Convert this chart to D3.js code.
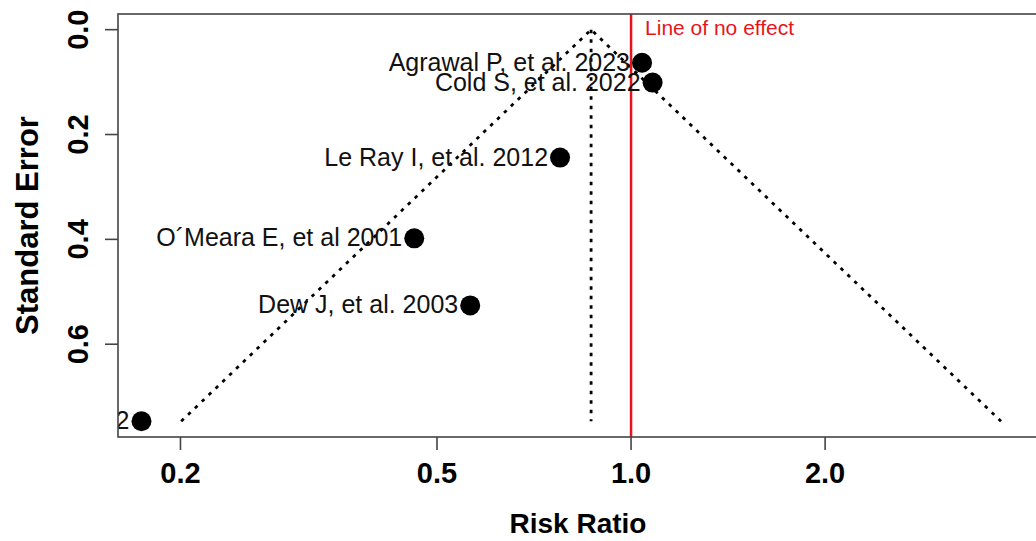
<!DOCTYPE html>
<html lang="en">
	<head>
		<meta charset="utf-8">
		<title>funnel plot</title>
		<script type="text/javascript" src="https://d3js.org/d3.v7.min.js"></script>
		<style type="text/css">
            body{margin:0;background:#fff;font-family:"Liberation Sans",Arial,Helvetica,sans-serif;}
            svg{display:block;}
		</style>
	</head>
	<body>
    <div id="chart1"></div>
		<script type="text/javascript">
            // study data (risk ratio, standard error)
            var studies = ["Agrawal P, et al. 2023","Cold S, et al. 2022","Le Ray I, et al. 2012","O\u00B4Meara E, et al 2001","Dew J, et al. 2003","et al. 2012"]
            var riskRatio = [1.04,1.08,0.776,0.461,0.563,0.174]
            var stdError = [0.063,0.101,0.244,0.398,0.526,0.747]
            var pooledRR = 0.867
            var xTicks = [0.2,0.5,1.0,2.0]
            var xTickLabels = ["0.2","0.5","1.0","2.0"]
            var yTicks = [0,0.2,0.4,0.6]
            var yTickLabels = ["0.0","0.2","0.4","0.6"]

            var w = 1036
            var h = 541
            // plot box (window.top is read-only, so keep these names apart)
            var pLeft = 118, pRight = 1042, pTop = 14, pBottom = 437

            var xScale = d3.scaleLog().domain([0.160,4.34]).range([pLeft,pRight])
            var yScale = d3.scaleLinear().domain([-0.0299,0.777]).range([pTop,pBottom])

            var svg = d3.select("#chart1")
                        .append("svg")
                        .attr("width",w)
                        .attr("height",h)

            svg.append("clipPath").attr("id","plotclip")
                .append("rect")
                .attr("x",pLeft).attr("y",pTop)
                .attr("width",pRight-pLeft).attr("height",pBottom-pTop)

            var plot = svg.append("g").attr("clip-path","url(#plotclip)")

            // funnel
            var maxSe = d3.max(stdError)
            var est = Math.log(pooledRR)
            var funnel = [
                [Math.exp(est-1.96*maxSe),maxSe],
                [pooledRR,0],
                [Math.exp(est+1.96*maxSe),maxSe]
            ]
            var line = d3.line()
                .x(function(d){ return xScale(d[0]) })
                .y(function(d){ return yScale(d[1]) })

            plot.append("path")
                .attr("d",line(funnel))
                .attr("fill","none")
                .attr("stroke","#000")
                .attr("stroke-width",2.8)
                .attr("stroke-dasharray","3.5,6")

            plot.append("path")
                .attr("d",line([[pooledRR,0],[pooledRR,maxSe]]))
                .attr("fill","none")
                .attr("stroke","#000")
                .attr("stroke-width",2.8)
                .attr("stroke-dasharray","3.5,6")

            // line of no effect
            plot.append("line")
                .attr("x1",xScale(1)).attr("x2",xScale(1))
                .attr("y1",pTop).attr("y2",pBottom)
                .attr("stroke","#e8141b")
                .attr("stroke-width",2.5)

            plot.append("text")
                .attr("x",xScale(1)+14)
                .attr("y",35)
                .attr("fill","#e8141b")
                .attr("font-size",21)
                .text("Line of no effect")

            var data = studies.map(function(s,i){
                return {name:s,rr:riskRatio[i],se:stdError[i]}
            })

            plot.selectAll("text.lab")
                .data(data)
                .enter()
                .append("text")
                .attr("class","lab")
                .attr("x",function(d){ return xScale(d.rr)-12 })
                .attr("y",function(d){ return yScale(d.se)+8 })
                .attr("text-anchor","end")
                .attr("font-size",25)
                .attr("fill","#111")
                .text(function(d){ return d.name })

            plot.selectAll("circle")
                .data(data)
                .enter()
                .append("circle")
                .attr("cx",function(d){ return xScale(d.rr) })
                .attr("cy",function(d){ return yScale(d.se) })
                .attr("r",10)
                .attr("fill","#000")

            // box (open on the right, runs off the page)
            svg.append("rect")
                .attr("x",pLeft).attr("y",pTop)
                .attr("width",pRight-pLeft).attr("height",pBottom-pTop)
                .attr("fill","none")
                .attr("stroke","#444")
                .attr("stroke-width",1.6)

            // x axis
            var xAxis = svg.append("g")
            xAxis.selectAll("line")
                .data(xTicks)
                .enter()
                .append("line")
                .attr("x1",function(d){ return xScale(d) })
                .attr("x2",function(d){ return xScale(d) })
                .attr("y1",pBottom).attr("y2",pBottom+13)
                .attr("stroke","#444").attr("stroke-width",1.6)
            xAxis.selectAll("text")
                .data(xTicks)
                .enter()
                .append("text")
                .attr("x",function(d){ return xScale(d) })
                .attr("y",483)
                .attr("text-anchor","middle")
                .attr("font-size",29)
                .attr("font-weight","bold")
                .text(function(d,i){ return xTickLabels[i] })

            svg.append("text")
                .attr("x",578)
                .attr("y",533)
                .attr("text-anchor","middle")
                .attr("font-size",28)
                .attr("font-weight","bold")
                .text("Risk Ratio")

            // y axis
            var yAxis = svg.append("g")
            yAxis.selectAll("line")
                .data(yTicks)
                .enter()
                .append("line")
                .attr("x1",pLeft-13).attr("x2",pLeft)
                .attr("y1",function(d){ return yScale(d) })
                .attr("y2",function(d){ return yScale(d) })
                .attr("stroke","#444").attr("stroke-width",1.6)
            yAxis.selectAll("text")
                .data(yTicks)
                .enter()
                .append("text")
                .attr("transform",function(d){ return "translate(88," + yScale(d) + ") rotate(-90)" })
                .attr("text-anchor","middle")
                .attr("font-size",29)
                .attr("font-weight","bold")
                .text(function(d,i){ return yTickLabels[i] })

            svg.append("text")
                .attr("transform","translate(38," + (pTop+pBottom)/2 + ") rotate(-90)")
                .attr("text-anchor","middle")
                .attr("font-size",31)
                .attr("font-weight","bold")
                .text("Standard Error")
        </script>
	</body>
</html>
